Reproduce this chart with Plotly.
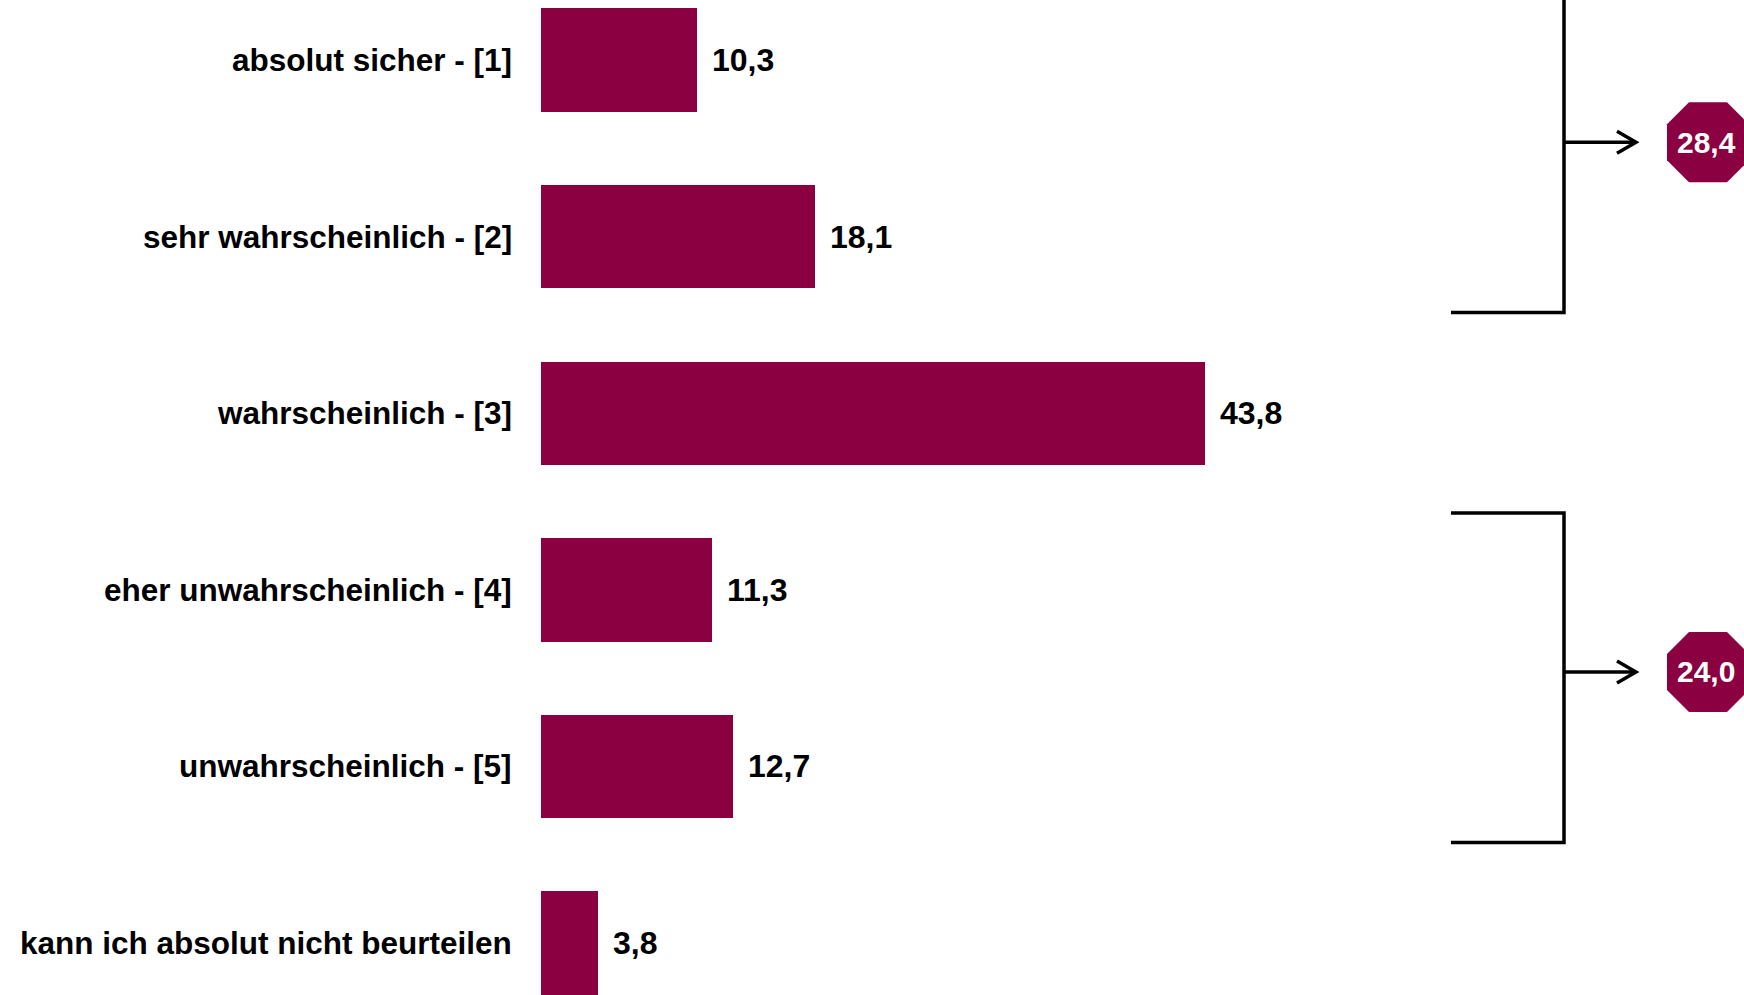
import plotly.graph_objects as go

# Survey answers (percent)
categories = [
    "absolut sicher - [1]",
    "sehr wahrscheinlich - [2]",
    "wahrscheinlich - [3]",
    "eher unwahrscheinlich - [4]",
    "unwahrscheinlich - [5]",
    "kann ich absolut nicht beurteilen",
]
values = [10.3, 18.1, 43.8, 11.3, 12.7, 3.8]

# Grouped totals shown in the badges: (first index, last index, total)
groups = [(0, 1, 28.4), (3, 4, 24.0)]

BAR_COLOR = "#8A0041"
FONT = "Liberation Sans"
W, H = 1744, 995


def de(v):
    return f"{v:.1f}".replace(".", ",")


positions = list(range(len(categories)))

fig = go.Figure(
    go.Bar(
        x=values,
        y=positions,
        orientation="h",
        marker=dict(color=BAR_COLOR, line=dict(width=0)),
        width=0.585,
        hoverinfo="skip",
    )
)

annotations = []
shapes = []

# category labels left of the bars, value labels right of them
for pos, cat, val in zip(positions, categories, values):
    annotations.append(dict(
        x=0, y=pos, xref="x", yref="y", text=cat, showarrow=False,
        xanchor="right", yanchor="middle", xshift=-27,
        font=dict(family=FONT, size=31.5, color="black", weight="bold"),
    ))
    annotations.append(dict(
        x=val, y=pos, xref="x", yref="y", text=de(val), showarrow=False,
        xanchor="left", yanchor="middle", xshift=13,
        font=dict(family=FONT, size=32, color="black", weight="bold"),
    ))

# brackets with arrows pointing to octagon badges
bx_left = 1451 / W
bx_vert = 1564 / W
bx_tip = 1636 / W
badge_x = 1708 / W
text_x = 1706 / W
line = dict(color="black", width=3.5)
octagon = "M-19,-40 L19,-40 L41,-18 L41,18 L19,40 L-19,40 L-41,18 L-41,-18 Z"

for first, last, total in groups:
    y_top = first - 0.435
    y_bot = last + 0.43
    y_mid = (first + last) / 2 - 0.035
    shapes.append(dict(
        type="path", xref="paper", yref="y", line=line,
        path=f"M{bx_left},{y_top} L{bx_vert},{y_top} L{bx_vert},{y_bot} L{bx_left},{y_bot}",
    ))
    shapes.append(dict(
        type="line", xref="paper", yref="y", line=line,
        x0=bx_vert, x1=bx_tip, y0=y_mid, y1=y_mid,
    ))
    shapes.append(dict(
        type="path", xref="paper", yref="y", xsizemode="pixel", ysizemode="pixel",
        xanchor=bx_tip, yanchor=y_mid, line=line,
        path="M-19,-11 L0,0 L-19,11",
    ))
    shapes.append(dict(
        type="path", xref="paper", yref="y", xsizemode="pixel", ysizemode="pixel",
        xanchor=badge_x, yanchor=y_mid, line=dict(width=0),
        fillcolor=BAR_COLOR, path=octagon,
    ))
    annotations.append(dict(
        x=text_x, y=y_mid, xref="paper", yref="y", text=de(total), showarrow=False,
        xanchor="center", yanchor="middle",
        font=dict(family=FONT, size=30, color="white", weight="bold"),
    ))

fig.update_layout(
    width=W, height=H,
    margin=dict(l=0, r=0, t=0, b=0),
    paper_bgcolor="white", plot_bgcolor="white",
    showlegend=False,
    xaxis=dict(range=[-35.66, 79.38], visible=False, fixedrange=True),
    yaxis=dict(range=[5.294, -0.34], visible=False, fixedrange=True),
    annotations=annotations,
    shapes=shapes,
    bargap=0,
)

fig.write_html("out.html", config=dict(displayModeBar=False))
